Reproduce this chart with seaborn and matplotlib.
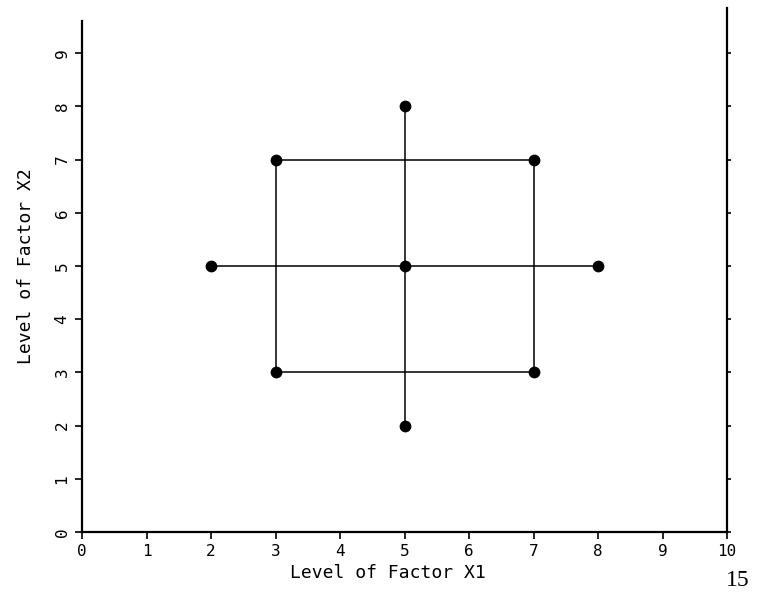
import matplotlib
matplotlib.use("Agg")
import matplotlib.pyplot as plt
import seaborn as sns
import pandas as pd

# Design points (factor levels)
x1_levels = [3, 7, 7, 3, 5, 2, 8, 5, 5]
x2_levels = [3, 3, 7, 7, 5, 5, 5, 2, 8]

# Connecting paths: the square of factorial points and the two axial lines
square_x1 = [3, 7, 7, 3, 3]
square_x2 = [3, 3, 7, 7, 3]
horiz_x1 = [2, 8]
horiz_x2 = [5, 5]
vert_x1 = [5, 5]
vert_x2 = [2, 8]

x_ticks = list(range(0, 11))
y_ticks = list(range(0, 10))

sns.set_theme(style="white")
plt.rcParams["font.family"] = ["DejaVu Sans Mono", "DejaVu Sans"]
plt.rcParams["text.color"] = "black"
plt.rcParams["axes.labelcolor"] = "black"

points = pd.DataFrame({"x1": x1_levels, "x2": x2_levels})
paths = pd.concat([
    pd.DataFrame({"x1": square_x1, "x2": square_x2, "path": "square", "order": range(len(square_x1))}),
    pd.DataFrame({"x1": horiz_x1, "x2": horiz_x2, "path": "horizontal", "order": range(len(horiz_x1))}),
    pd.DataFrame({"x1": vert_x1, "x2": vert_x2, "path": "vertical", "order": range(len(vert_x1))}),
], ignore_index=True)

fig = plt.figure(figsize=(7.64, 5.94), dpi=100)
ax = fig.add_axes([82 / 764, 1 - 532 / 594, (727 - 82) / 764, 532 / 594])

sns.lineplot(data=paths, x="x1", y="x2", units="path", estimator=None, sort=False,
             color="black", linewidth=1.1, ax=ax)
sns.scatterplot(data=points, x="x1", y="x2", color="black", s=72, edgecolor="black",
                linewidth=0, zorder=5, ax=ax)

ax.set_xlim(0, 10)
ax.set_ylim(0, 10)
ax.set_xticks(x_ticks)
ax.set_yticks(y_ticks)
ax.set_xticklabels([str(t) for t in x_ticks], fontsize=11.5)
ax.set_yticklabels([str(t) for t in y_ticks], fontsize=11.5, rotation=90, va="center")

ax.set_xlabel("Level of Factor X1", fontsize=13, color="black")
ax.xaxis.set_label_coords(0.474, -0.06)
ax.set_ylabel("Level of Factor X2", fontsize=13, color="black")
ax.yaxis.set_label_coords(-0.073, 0.5)

for side in ["left", "bottom", "right"]:
    ax.spines[side].set_visible(True)
    ax.spines[side].set_color("black")
    ax.spines[side].set_linewidth(1.6)
ax.spines["top"].set_visible(False)
ax.spines["left"].set_bounds(0, 9.6)
ax.spines["right"].set_bounds(0, 9.85)

ax.tick_params(axis="both", which="both", direction="out", color="black",
               width=1.2, length=5, labelcolor="black", pad=4)
ax.tick_params(axis="y", right=True, labelright=False, left=True)
for t in ax.yaxis.get_major_ticks():
    t.tick2line.set_markersize(3)
ax.tick_params(axis="x", bottom=True, top=False)
ax.grid(False)
ax.patch.set_alpha(0)

fig.text(738 / 764, 1 - 581 / 594, "15", fontsize=17, family="Liberation Serif",
         ha="center", va="center", color="black")

fig.savefig("out.png", dpi=100, facecolor="white")
